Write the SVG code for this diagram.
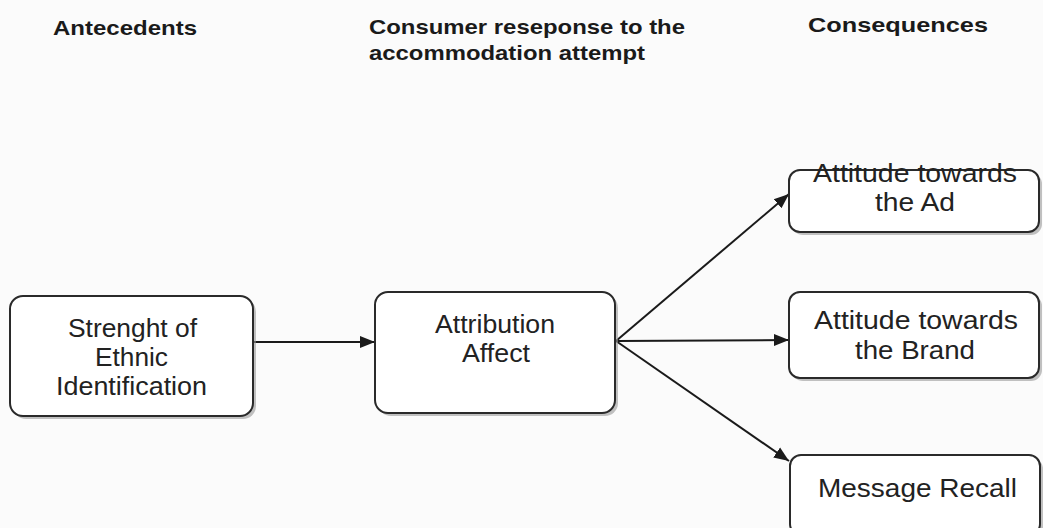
<svg xmlns="http://www.w3.org/2000/svg" width="1043" height="528" viewBox="0 0 1043 528">
  <style>
    .hdr { font-family: "Liberation Sans", Arial, sans-serif; font-weight: bold; font-size: 21px; fill: #1a1a1a; }
    .box { fill: #ffffff; stroke: #2a2a2a; stroke-width: 2; }
    .shadow { fill: #9a9a9a; opacity: 0.6; }
    .lbl { font-family: "Liberation Sans", Arial, sans-serif; font-size: 25px; fill: #222; }
    .conn { stroke: #1a1a1a; stroke-width: 2; fill: none; marker-end: url(#arrow); }
  </style>
  <defs>
    <marker id="arrow" viewBox="0 0 10 10" refX="10" refY="5" markerWidth="7.5" markerHeight="7.5" markerUnits="strokeWidth" orient="auto">
      <path d="M0,1 L10,5 L0,9 z" fill="#1a1a1a"/>
    </marker>
  </defs>
  <rect width="1043" height="528" fill="#fbfbfb"/>

  <!-- column headings -->
  <g id="headings">
    <text class="hdr" x="53" y="35" textLength="144" lengthAdjust="spacingAndGlyphs">Antecedents</text>
    <text class="hdr" x="369" y="34" textLength="316" lengthAdjust="spacingAndGlyphs">Consumer reseponse to the</text>
    <text class="hdr" x="369" y="60" textLength="276" lengthAdjust="spacingAndGlyphs">accommodation attempt</text>
    <text class="hdr" x="808" y="32" textLength="180" lengthAdjust="spacingAndGlyphs">Consequences</text>
  </g>

  <!-- connectors -->
  <g id="connectors">
    <line class="conn" x1="254" y1="342" x2="375" y2="342"/>
    <line class="conn" x1="616" y1="341" x2="789" y2="194"/>
    <line class="conn" x1="616" y1="341" x2="789" y2="340"/>
    <line class="conn" x1="616" y1="341" x2="789" y2="461"/>
  </g>

  <g id="node-ethnic">
    <rect class="shadow" x="13" y="299" width="243" height="120" rx="13"/>
    <rect class="box" x="10" y="296" width="243" height="120" rx="13"/>
    <text class="lbl" x="68" y="337" textLength="129" lengthAdjust="spacingAndGlyphs">Strenght of</text>
    <text class="lbl" x="95" y="366" textLength="73" lengthAdjust="spacingAndGlyphs">Ethnic</text>
    <text class="lbl" x="56" y="395" textLength="151" lengthAdjust="spacingAndGlyphs">Identification</text>
  </g>

  <g id="node-attribution">
    <rect class="shadow" x="378" y="295" width="240" height="121" rx="13"/>
    <rect class="box" x="375" y="292" width="240" height="121" rx="13"/>
    <text class="lbl" x="435" y="333" textLength="120" lengthAdjust="spacingAndGlyphs">Attribution</text>
    <text class="lbl" x="462" y="362" textLength="68" lengthAdjust="spacingAndGlyphs">Affect</text>
  </g>

  <g id="node-ad">
    <rect class="shadow" x="792" y="173" width="250" height="62" rx="11"/>
    <rect class="box" x="789" y="170" width="250" height="62" rx="11"/>
    <text class="lbl" x="813" y="182" textLength="204" lengthAdjust="spacingAndGlyphs">Attitude towards</text>
    <text class="lbl" x="875" y="211" textLength="80" lengthAdjust="spacingAndGlyphs">the Ad</text>
  </g>

  <g id="node-brand">
    <rect class="shadow" x="792" y="295" width="250" height="86" rx="11"/>
    <rect class="box" x="789" y="292" width="250" height="86" rx="11"/>
    <text class="lbl" x="814" y="329" textLength="204" lengthAdjust="spacingAndGlyphs">Attitude towards</text>
    <text class="lbl" x="855" y="359" textLength="120" lengthAdjust="spacingAndGlyphs">the Brand</text>
  </g>

  <g id="node-recall">
    <rect class="shadow" x="793" y="458" width="250" height="80" rx="11"/>
    <rect class="box" x="790" y="455" width="250" height="80" rx="11"/>
    <text class="lbl" x="818" y="497" textLength="199" lengthAdjust="spacingAndGlyphs">Message Recall</text>
  </g>
</svg>
